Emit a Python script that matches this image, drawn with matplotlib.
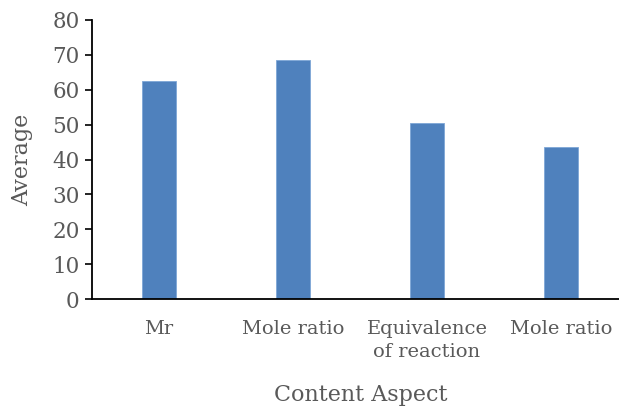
import matplotlib.pyplot as plt

# content aspects and their average scores
categories = ["Mr", "Mole ratio", "Equivalence\nof reaction", "Mole ratio"]
averages = [62.6, 68.6, 50.5, 43.6]
yticks = [0, 10, 20, 30, 40, 50, 60, 70, 80]

grey = "#595959"
plt.rcParams['font.family'] = ['DejaVu Serif']

fig = plt.figure(figsize=(6.19, 4.08), dpi=100)
# axis runs past the right edge, as in the cropped original
ax = fig.add_axes([92/619, 109/408, 536/619, 279/408])

x = range(len(categories))
ax.bar(x, averages, width=0.25, color="#4f81bd", edgecolor="#7ea6d6", linewidth=0.6)

ax.set_xlim(-0.5, len(categories) - 0.5)
ax.set_ylim(0, 80)
ax.set_yticks(yticks)
ax.set_xticks(list(x))
ax.set_xticklabels(categories, fontsize=14, color=grey, linespacing=1.35)
ax.tick_params(axis='y', labelsize=15.5, colors=grey, length=5, width=1.2, color="black", pad=4)
ax.tick_params(axis='x', length=0, pad=15)

for s in ["top", "right"]:
    ax.spines[s].set_visible(False)
ax.spines["left"].set_linewidth(1.3)
ax.spines["bottom"].set_linewidth(1.3)

ax.set_ylabel("Average", fontsize=16, color=grey)
ax.yaxis.set_label_coords(-70/536, 0.5)
ax.yaxis.label.set_va("center")
ax.set_xlabel("Content Aspect", fontsize=16, color=grey)
ax.xaxis.set_label_coords((361 - 92) / 536, -96/279)
ax.xaxis.label.set_va("center")

plt.savefig("out.png", dpi=100)
